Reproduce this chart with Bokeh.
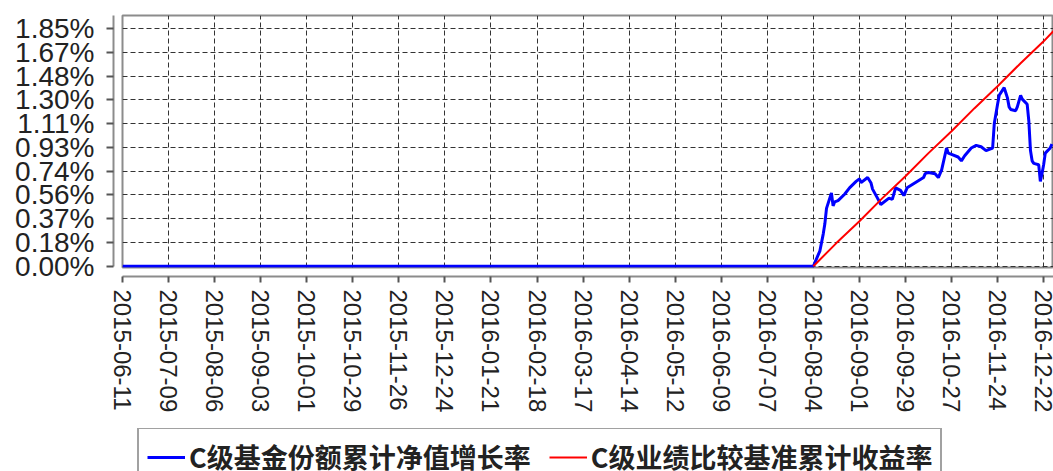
import pandas as pd
from bokeh.plotting import figure
from bokeh.layouts import column
from bokeh.models import (Range1d, FixedTicker, LinearAxis, DatetimeAxis,
                          CustomJSTickFormatter, Legend, LegendItem, ColumnDataSource)
from bokeh.embed import file_html
from bokeh.resources import INLINE

# ---------------- data ----------------
x_tick_labels = ["2015-06-11", "2015-07-09", "2015-08-06", "2015-09-03", "2015-10-01",
                 "2015-10-29", "2015-11-26", "2015-12-24", "2016-01-21", "2016-02-18",
                 "2016-03-17", "2016-04-14", "2016-05-12", "2016-06-09", "2016-07-07",
                 "2016-08-04", "2016-09-01", "2016-09-29", "2016-10-27", "2016-11-24",
                 "2016-12-22"]
y_tick_values = [0.0, 0.185, 0.37, 0.555, 0.74, 0.925, 1.11, 1.295, 1.48, 1.665, 1.85]
y_tick_labels = ["0.00%", "0.18%", "0.37%", "0.56%", "0.74%", "0.93%", "1.11%",
                 "1.30%", "1.48%", "1.67%", "1.85%"]

series_names = ["C级基金份额累计净值增长率", "C级业绩比较基准累计收益率"]

nav_dates = ["2015-06-11", "2016-08-04", "2016-08-05", "2016-08-08", "2016-08-10",
             "2016-08-11", "2016-08-12", "2016-08-15", "2016-08-16", "2016-08-17",
             "2016-08-19", "2016-08-23", "2016-08-26", "2016-08-30", "2016-09-01",
             "2016-09-02", "2016-09-06", "2016-09-08", "2016-09-09", "2016-09-12",
             "2016-09-14", "2016-09-19", "2016-09-21", "2016-09-23", "2016-09-26",
             "2016-09-28", "2016-09-30", "2016-10-10", "2016-10-11", "2016-10-13",
             "2016-10-17", "2016-10-19", "2016-10-21", "2016-10-24", "2016-10-25",
             "2016-10-27", "2016-10-31", "2016-11-02", "2016-11-04", "2016-11-08",
             "2016-11-11", "2016-11-14", "2016-11-17", "2016-11-21", "2016-11-22",
             "2016-11-24", "2016-11-25", "2016-11-28", "2016-11-29", "2016-11-30",
             "2016-12-01", "2016-12-02", "2016-12-05", "2016-12-06", "2016-12-08",
             "2016-12-09", "2016-12-12", "2016-12-13", "2016-12-14", "2016-12-15",
             "2016-12-16", "2016-12-19", "2016-12-20", "2016-12-21", "2016-12-22",
             "2016-12-23", "2016-12-26", "2016-12-27"]
nav_values = [0.00, 0.00, 0.03, 0.12, 0.25,
              0.33, 0.45, 0.57, 0.47, 0.50,
              0.51, 0.56, 0.61, 0.66, 0.68,
              0.65, 0.69, 0.65, 0.60, 0.53,
              0.48, 0.53, 0.52, 0.61, 0.59,
              0.55, 0.61, 0.69, 0.72, 0.73,
              0.72, 0.69, 0.75, 0.92, 0.88,
              0.87, 0.85, 0.82, 0.86, 0.92,
              0.94, 0.93, 0.90, 0.92, 1.11,
              1.26, 1.33, 1.39, 1.35, 1.31,
              1.24, 1.22, 1.21, 1.24, 1.33,
              1.30, 1.26, 1.13, 0.90, 0.82,
              0.80, 0.79, 0.66, 0.72, 0.79,
              0.88, 0.92, 0.95]

bench_dates = ["2016-08-04", "2016-08-18", "2016-09-01", "2016-09-15", "2016-09-29",
               "2016-10-13", "2016-10-27", "2016-11-10", "2016-11-24", "2016-12-08",
               "2016-12-22", "2016-12-28"]
bench_values = [0.00, 0.18, 0.35, 0.53, 0.70,
                0.88, 1.05, 1.23, 1.40, 1.58,
                1.75, 1.83]

# ---------------- main chart ----------------
x_ticks = [float(v) for v in (pd.to_datetime(x_tick_labels).astype("int64") // 10**6)]
x_start = pd.Timestamp("2015-06-11")
x_end = pd.Timestamp("2016-12-28")
y_end = 1.951

p = figure(width=1053, height=428, output_backend="svg", toolbar_location=None,
           x_axis_type="datetime", x_axis_location=None, y_axis_location=None,
           x_range=Range1d(x_start, x_end), y_range=Range1d(-0.01, y_end),
           min_border_left=122, min_border_right=0, min_border_top=15,
           min_border_bottom=161, background_fill_color="white",
           border_fill_color="white")
p.outline_line_color = "#8c8c8c"
p.outline_line_width = 2

AX_FONT = "Liberation Sans"
EMPTY = CustomJSTickFormatter(code="return '';")

# invisible spacer axes that push the real axes away from the plot area
sp_left = LinearAxis(ticker=FixedTicker(ticks=[1.0]), formatter=EMPTY,
                     axis_line_color=None, major_tick_line_color=None,
                     minor_tick_line_color=None, major_tick_out=9, major_tick_in=0,
                     major_label_standoff=0, major_label_text_font_size="0px")
sp_below = LinearAxis(ticker=FixedTicker(ticks=[x_ticks[10]]), formatter=EMPTY,
                      axis_line_color=None, major_tick_line_color=None,
                      minor_tick_line_color=None, major_tick_out=9, major_tick_in=0,
                      major_label_standoff=0, major_label_text_font_size="0px")

yaxis = LinearAxis(
    ticker=FixedTicker(ticks=y_tick_values),
    formatter=CustomJSTickFormatter(args=dict(vals=y_tick_values, labs=y_tick_labels), code="""
        for (let i = 0; i < vals.length; i++) { if (Math.abs(vals[i] - tick) < 1e-9) return labs[i]; }
        return '';
    """),
    bounds=(0, y_end),
    axis_line_color="#8c8c8c", axis_line_width=2,
    major_tick_line_color="#555555", major_tick_line_width=2,
    major_tick_out=7, major_tick_in=0, minor_tick_line_color=None,
    major_label_standoff=12, major_label_text_font=AX_FONT,
    major_label_text_font_size="28px", major_label_text_color="#222222")

xaxis = DatetimeAxis(
    ticker=FixedTicker(ticks=x_ticks),
    formatter=CustomJSTickFormatter(args=dict(vals=x_ticks, labs=x_tick_labels), code="""
        for (let i = 0; i < vals.length; i++) { if (Math.abs(vals[i] - tick) < 1) return labs[i]; }
        return '';
    """),
    axis_line_color="#8c8c8c", axis_line_width=2,
    major_tick_line_color="#555555", major_tick_line_width=2,
    major_tick_out=6, major_tick_in=0, minor_tick_line_color=None,
    major_label_standoff=7, major_label_orientation="vertical",
    major_label_text_font=AX_FONT, major_label_text_font_size="24px",
    major_label_text_color="#222222")

p.left = [sp_left, yaxis]
p.below = [sp_below, xaxis]

p.xgrid.ticker = FixedTicker(ticks=x_ticks)
p.ygrid.ticker = FixedTicker(ticks=y_tick_values)
for g in (p.xgrid, p.ygrid):
    g.grid_line_color = "#333333"
    g.grid_line_dash = "5 3"
    g.grid_line_width = 1

nav_src = ColumnDataSource(dict(x=pd.to_datetime(nav_dates), y=nav_values))
bench_src = ColumnDataSource(dict(x=pd.to_datetime(bench_dates), y=bench_values))

p.line("x", "y", source=nav_src, line_color="#0000FF", line_width=3)
p.line("x", "y", source=bench_src, line_color="#FF0000", line_width=2)

# ---------------- legend strip (frame is aligned with the chart's frame) ----------------
q = figure(width=1053, height=43, output_backend="svg", toolbar_location=None,
           x_axis_location=None, y_axis_location=None,
           x_range=Range1d(0, 1), y_range=Range1d(0, 1), min_border=0,
           background_fill_color="white", border_fill_color="white")
q.outline_line_color = None
q.xgrid.visible = False
q.ygrid.visible = False
d_nav = q.line(x=[-3, -2], y=[-3, -2], line_color="#0000FF", line_width=3)
d_bench = q.line(x=[-3, -2], y=[-3, -2], line_color="#FF0000", line_width=2)

legend = Legend(items=[LegendItem(label=series_names[0], renderers=[d_nav]),
                       LegendItem(label=series_names[1], renderers=[d_bench])],
                location=(15, -15), orientation="horizontal",
                label_text_font="Noto Sans CJK SC", label_text_font_size="27px",
                label_text_font_style="bold", label_text_color="#222222",
                glyph_width=38, glyph_height=20, label_standoff=4, spacing=18,
                padding=8, margin=0,
                border_line_color="#444444", border_line_width=2,
                background_fill_color="white", background_fill_alpha=1.0)
q.add_layout(legend, "center")

open("out.html", "w").write(file_html(column(p, q, spacing=0), INLINE))
